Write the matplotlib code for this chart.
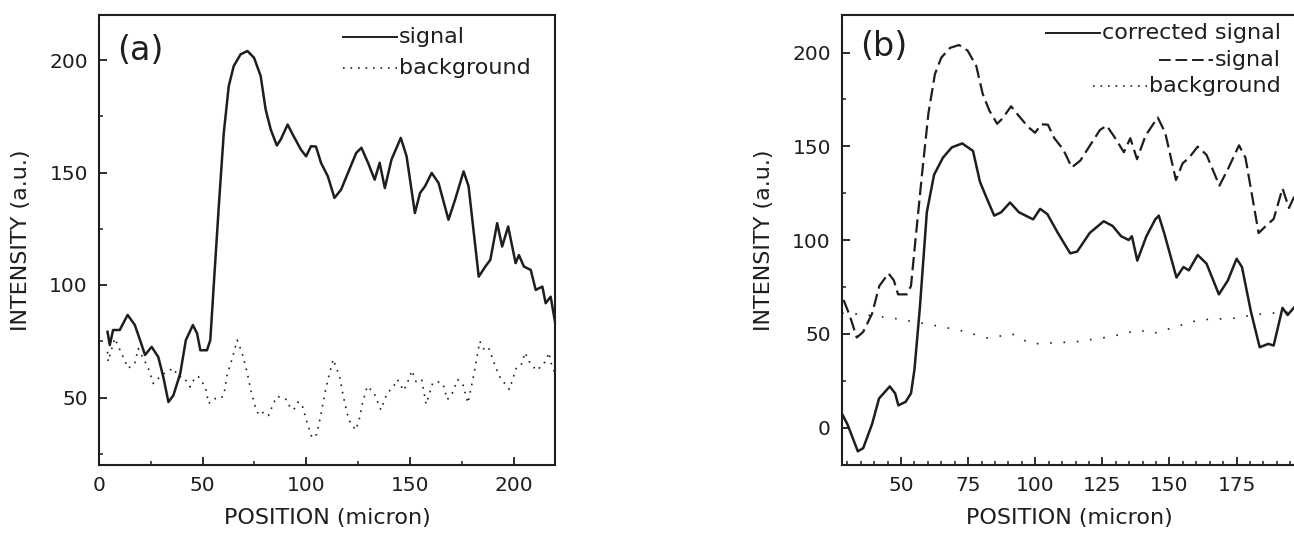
import matplotlib
matplotlib.use("Agg")
import matplotlib.pyplot as plt
from matplotlib.ticker import MultipleLocator

# ---------------- data ----------------
signal_x = [4.1, 5.2, 6.8, 10, 13.8, 17.3, 19.8, 22.2, 25.4, 28.6, 31, 33.5, 35.9, 39.2,
            41.9, 45.3, 47.3, 48.9, 52.1, 53.7, 55.3, 57.8, 60.2, 62.6, 65, 68.3, 71.6,
            74.8, 78, 80.4, 82.9, 85.8, 87.7, 91, 93.4, 97.4, 99.9, 102.3, 104.7, 107.1,
            110.4, 113.6, 116.8, 120.1, 124.1, 126.6, 129.8, 133, 135.4, 137.9, 141.1,
            145.6, 148.4, 152.4, 154.9, 157.3, 160.5, 163.8, 168.6, 171.8, 175.9, 178.3,
            183.2, 186.4, 188.8, 192.1, 194.5, 197.4, 201, 202.6, 205, 208.3, 210.7, 213.9,
            215.5, 217.9, 220.4]
signal_y = [79.2, 73.3, 80, 80, 86.7, 82.2, 75.5, 68.9, 72.5, 68, 59.2, 48, 51, 60.7,
            75.5, 82.2, 78.5, 71, 71, 75.5, 99, 135, 167.6, 188.4, 197.3, 202.5, 204,
            201, 192.9, 178, 169, 162, 164.7, 171.3, 167, 160.2, 157.2, 161.7, 161.5, 154.3,
            148.3, 138.7, 142.4, 149.8, 158.7, 161, 154.3, 146.8, 154.3, 143.1, 155.7,
            165.4, 157.2, 132, 140.9, 143.9, 149.8, 145.4, 129, 137.9, 150.5, 143.9,
            103.7, 108.2, 111.2, 127.5, 117.1, 126, 109.7, 113.3, 108.2, 106.7, 97.8, 99.3,
            91.9, 94.8, 81.5]

bg_a_x = [4.1, 4.4, 7.6, 10.5, 14.1, 17.3, 18.9, 23.8, 26.2, 27.8, 30.2, 35.9, 38.3, 40.7,
          44, 46.5, 48, 51.3, 52.9, 55.3, 58.6, 60.2, 61.8, 64.3, 66.7, 69.1, 71.6, 73.2,
          75.6, 77.2, 79.6, 81.8, 84, 85.8, 88, 90.6, 92, 93.9, 96, 97.9, 100, 102.8, 105,
          107, 109, 111, 113, 116, 118, 120.5, 123.8, 125.5, 127, 129.4, 132.7, 136, 139,
          141.5, 144, 147, 149, 151, 153, 155.7, 157.8, 161, 163.5, 166, 168, 170.5, 173,
          175.5, 178, 181, 183.7, 186, 188, 191.7, 194, 196, 198, 201.5, 204, 205.5, 207.5,
          209.5, 211.5, 213.6, 215.5, 217, 218.5, 220]
bg_a_y = [70.3, 66, 76.3, 70.3, 63, 65.2, 71.8, 63, 56.2, 57.7, 60, 63, 59.2, 59.2,
          54.7, 59.2, 59.2, 54.7, 47.3, 49.5, 49.5, 51, 60, 67.4, 75.5, 69.6, 60.7, 53.3,
          45.1, 42.1, 43.6, 42, 47, 50.5, 50, 49, 46, 44.5, 48, 47, 40, 32, 33.5,
          42, 52, 60, 67, 59.5, 50, 40, 35.5, 40, 47, 55, 52, 44.5, 52,
          54, 58, 53, 57, 62, 57, 58, 47, 56.5, 57, 56, 49, 52, 58,
          56, 47.5, 61, 75, 71, 72, 62.7, 58, 56, 53.6, 63.6, 65, 70, 66,
          63.6, 62, 64.5, 66, 70, 64, 61]

corr_x = [28, 30, 33.9, 35.9, 39.2, 41.8, 45.8, 47.8, 49, 51.7, 53.7, 55, 57, 59.6, 62.3,
          65.6, 68.9, 72.8, 76.8, 79.4, 82, 84.7, 87.3, 90.6, 93.9, 99.2, 101.8, 104.5,
          108.4, 113, 115.6, 120.3, 125.5, 128.8, 132, 134.8, 136, 138, 141.4, 144.7, 146,
          148, 152.6, 155.2, 157.2, 160.5, 163.8, 168.4, 171.7, 175, 177, 180.3, 183.6,
          186.8, 188.8, 192.1, 194, 197]
corr_y = [7.3, 1.8, -12.7, -11, 1.8, 15.5, 21.9, 18.2, 11.8, 13.7, 18.2, 31, 63.8, 114.8, 134.8,
          143.9, 149.4, 151.5, 147.5, 131, 122, 113, 114.8, 120, 114.8, 111, 116.6, 113.8,
          103.8, 92.9, 93.8, 103.8, 110, 107.5, 102, 100, 102, 89, 102, 111, 113,
          103.8, 80, 85.6, 83.8, 92, 87.4, 71, 78.3, 90, 85.6, 62, 42.8,
          44.6, 43.7, 63.8, 60, 65]

bg_b_x = [28, 30, 40, 47, 58, 71.5, 82, 86, 91.3, 95, 99, 115, 128, 138.7, 143.7, 153, 161,
          174, 181, 188, 195, 197]
bg_b_y = [61, 61, 59.5, 58.3, 55.6, 52, 47.8, 48.5, 50, 47, 44.6, 45.7, 48.4, 52, 50, 54, 57.4,
          58.3, 60, 61, 61.5, 62]

xticks_a = [0, 50, 100, 150, 200]
yticks_a = [50, 100, 150, 200]
xticks_b = [50, 75, 100, 125, 150, 175]
yticks_b = [0, 50, 100, 150, 200]

# ---------------- figure ----------------
INK = "#1e1e1e"
plt.rcParams["font.family"] = ["DejaVu Sans"]
plt.rcParams["text.color"] = INK
plt.rcParams["axes.labelcolor"] = INK
plt.rcParams["xtick.color"] = INK
plt.rcParams["ytick.color"] = INK

W, H = 1294, 535
fig = plt.figure(figsize=(W / 100, H / 100), dpi=100)
fig.patch.set_facecolor("white")

TOP, BOT = 15, 465


def px_axes(l, r, t, b):
    return fig.add_axes([l / W, 1 - b / H, (r - l) / W, (b - t) / H])


ax1 = px_axes(99, 555, TOP, BOT)
ax2 = px_axes(842, 1297, TOP, BOT)

for ax in (ax1, ax2):
    for s in ax.spines.values():
        s.set_linewidth(1.5)
        s.set_color(INK)
    ax.tick_params(which="both", direction="in", top=False, right=False,
                   labelsize=14.5, pad=8)
    ax.tick_params(which="major", length=5.5, width=1.3)
    ax.tick_params(which="minor", length=3, width=1.1)

# ---- panel (a)
ax1.plot(signal_x, signal_y, color=INK, lw=1.8, solid_joinstyle="round")
ax1.plot(bg_a_x, bg_a_y, color=INK, lw=1.2, linestyle=(0, (1, 3.5)))
ax1.set_xlim(0, 220)
ax1.set_ylim(20, 220)
ax1.set_xticks(xticks_a)
ax1.set_yticks(yticks_a)
ax1.xaxis.set_minor_locator(MultipleLocator(25))
ax1.yaxis.set_minor_locator(MultipleLocator(25))
ax1.set_xlabel("POSITION (micron)", fontsize=16, labelpad=9)
ax1.set_ylabel("INTENSITY (a.u.)", fontsize=16, labelpad=13)
ax1.text(0.04, 0.922, "(a)", transform=ax1.transAxes, fontsize=24,
         ha="left", va="center")

# ---- panel (b)
ax2.plot(corr_x, corr_y, color=INK, lw=1.8)
ax2.plot(signal_x, signal_y, color=INK, lw=1.6, linestyle=(0, (6, 2.5)))
ax2.plot(bg_b_x, bg_b_y, color=INK, lw=1.2, linestyle=(0, (1, 7)))
ax2.set_xlim(28, 197.5)
ax2.set_ylim(-20, 220)
ax2.set_xticks(xticks_b)
ax2.set_yticks(yticks_b)
ax2.xaxis.set_minor_locator(MultipleLocator(5))
ax2.yaxis.set_minor_locator(MultipleLocator(25))
ax2.set_xlabel("POSITION (micron)", fontsize=16, labelpad=9)
ax2.set_ylabel("INTENSITY (a.u.)", fontsize=16, labelpad=13)
ax2.text(0.04, 0.93, "(b)", transform=ax2.transAxes, fontsize=24,
         ha="left", va="center")

# ---- legends (drawn manually to mimic the original alignment)
LEG_FS = 16
HANDLE = 54  # px
AXW = 455
AXH = BOT - TOP

styles = {
    "solid": dict(linestyle="-", lw=1.4),
    "dash": dict(linestyle=(0, (6, 2.5)), lw=1.4),
    "dot": dict(linestyle=(0, (1, 3.5)), lw=1.2),
}

# panel (a): left-aligned texts
leg_a = [("signal", "solid", 37), ("background", "dot", 68)]
for label, st, ypx in leg_a:
    yf = 1 - (ypx - TOP) / AXH
    x0 = (398 - 99) / AXW
    ax1.text(x0, yf, label, transform=ax1.transAxes, fontsize=LEG_FS,
             ha="left", va="center")
    ax1.plot([x0 - (HANDLE + 2) / AXW, x0 - 2 / AXW], [yf, yf], color=INK,
             transform=ax1.transAxes, clip_on=False, **styles[st])

# panel (b): right-aligned texts
leg_b = [("corrected signal", "solid", 33), ("signal", "dash", 60), ("background", "dot", 86)]
fig.canvas.draw()
renderer = fig.canvas.get_renderer()
for label, st, ypx in leg_b:
    yf = 1 - (ypx - TOP) / AXH
    xr = (1281 - 842) / AXW
    t = ax2.text(xr, yf, label, transform=ax2.transAxes, fontsize=LEG_FS,
                 ha="right", va="center")
    bb = t.get_window_extent(renderer=renderer)
    x_left = ax2.transAxes.inverted().transform((bb.x0, 0))[0]
    ax2.plot([x_left - (HANDLE + 2) / AXW, x_left - 2 / AXW], [yf, yf], color=INK,
             transform=ax2.transAxes, clip_on=False, **styles[st])

fig.savefig("out.png", dpi=100, facecolor="white")
